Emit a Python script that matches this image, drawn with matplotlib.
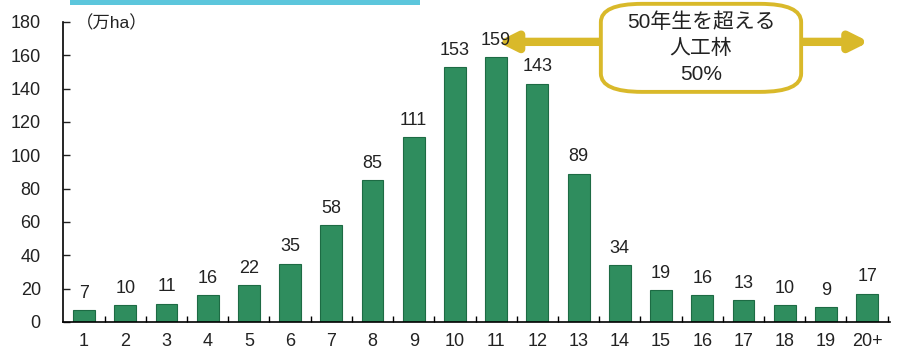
import matplotlib.pyplot as plt
from matplotlib.patches import FancyBboxPatch, Rectangle

plt.rcParams['font.family'] = ['Liberation Sans', 'Noto Sans CJK JP']

# age class (5-year bins) and planted forest area (万ha)
age_classes = ['1', '2', '3', '4', '5', '6', '7', '8', '9', '10',
               '11', '12', '13', '14', '15', '16', '17', '18', '19', '20+']
area = [7, 10, 11, 16, 22, 35, 58, 85, 111, 153,
        159, 143, 89, 34, 19, 16, 13, 10, 9, 17]
y_ticks = [0, 20, 40, 60, 80, 100, 120, 140, 160, 180]
note_lines = ['50年生を超える', '人工林', '50%']

fig = plt.figure(figsize=(9.04, 3.49), dpi=100)
ax = fig.add_axes([0.0697, 0.0774, 0.915, 0.86])

x = range(len(age_classes))
ax.bar(x, area, width=0.53, color='#2f8d5e', edgecolor='#1d6b44', linewidth=0.8)
for i, v in enumerate(area):
    ax.text(i, v + 5, str(v), ha='center', va='bottom', fontsize=13,
            color='#222222', zorder=6)

ax.set_xlim(-0.51, 19.56)
ax.set_ylim(0, 180)
ax.set_yticks(y_ticks)
ax.set_xticks(list(x))
ax.set_xticklabels(age_classes)
ax.set_xticks([i + 0.5 for i in range(len(age_classes))], minor=True)
ax.tick_params(axis='x', which='major', length=0, labelsize=13, pad=8, colors='#222222')
ax.tick_params(axis='x', which='minor', direction='in', length=4, width=1)
ax.tick_params(axis='y', direction='in', length=5, width=1, labelsize=13,
               pad=16, colors='#222222')
for s in ['top', 'right']:
    ax.spines[s].set_visible(False)
ax.spines['left'].set_linewidth(1.2)
ax.spines['bottom'].set_linewidth(1.2)

ax.text(0.016, 0.995, '（万ha）', transform=ax.transAxes, fontsize=12.5,
        ha='left', va='center', color='#222222')

# double-headed arrow over the older age classes
ax.annotate('', xy=(10.03, 168), xytext=(19.05, 168),
            arrowprops=dict(arrowstyle='<|-|>', color='#d9b92a', lw=6,
                            mutation_scale=26, shrinkA=0, shrinkB=0), zorder=4)
box = FancyBboxPatch((12.54, 138), 4.86, 52.8, boxstyle='round,pad=0,rounding_size=1.0',
                     mutation_aspect=11, facecolor='white', edgecolor='#d9b92a',
                     linewidth=2.8, clip_on=False, zorder=5)
ax.add_patch(box)
ax.text(14.97, 164.4, '\n'.join(note_lines), ha='center', va='center', fontsize=15,
        linespacing=1.45, color='#222222', zorder=7)

# heading strip cut at the top edge
fig.patches.append(Rectangle((0.077, 0.985), 0.388, 0.015, transform=fig.transFigure,
                             facecolor='#5cc6dc', edgecolor='none'))

fig.savefig('out.png', dpi=100)
